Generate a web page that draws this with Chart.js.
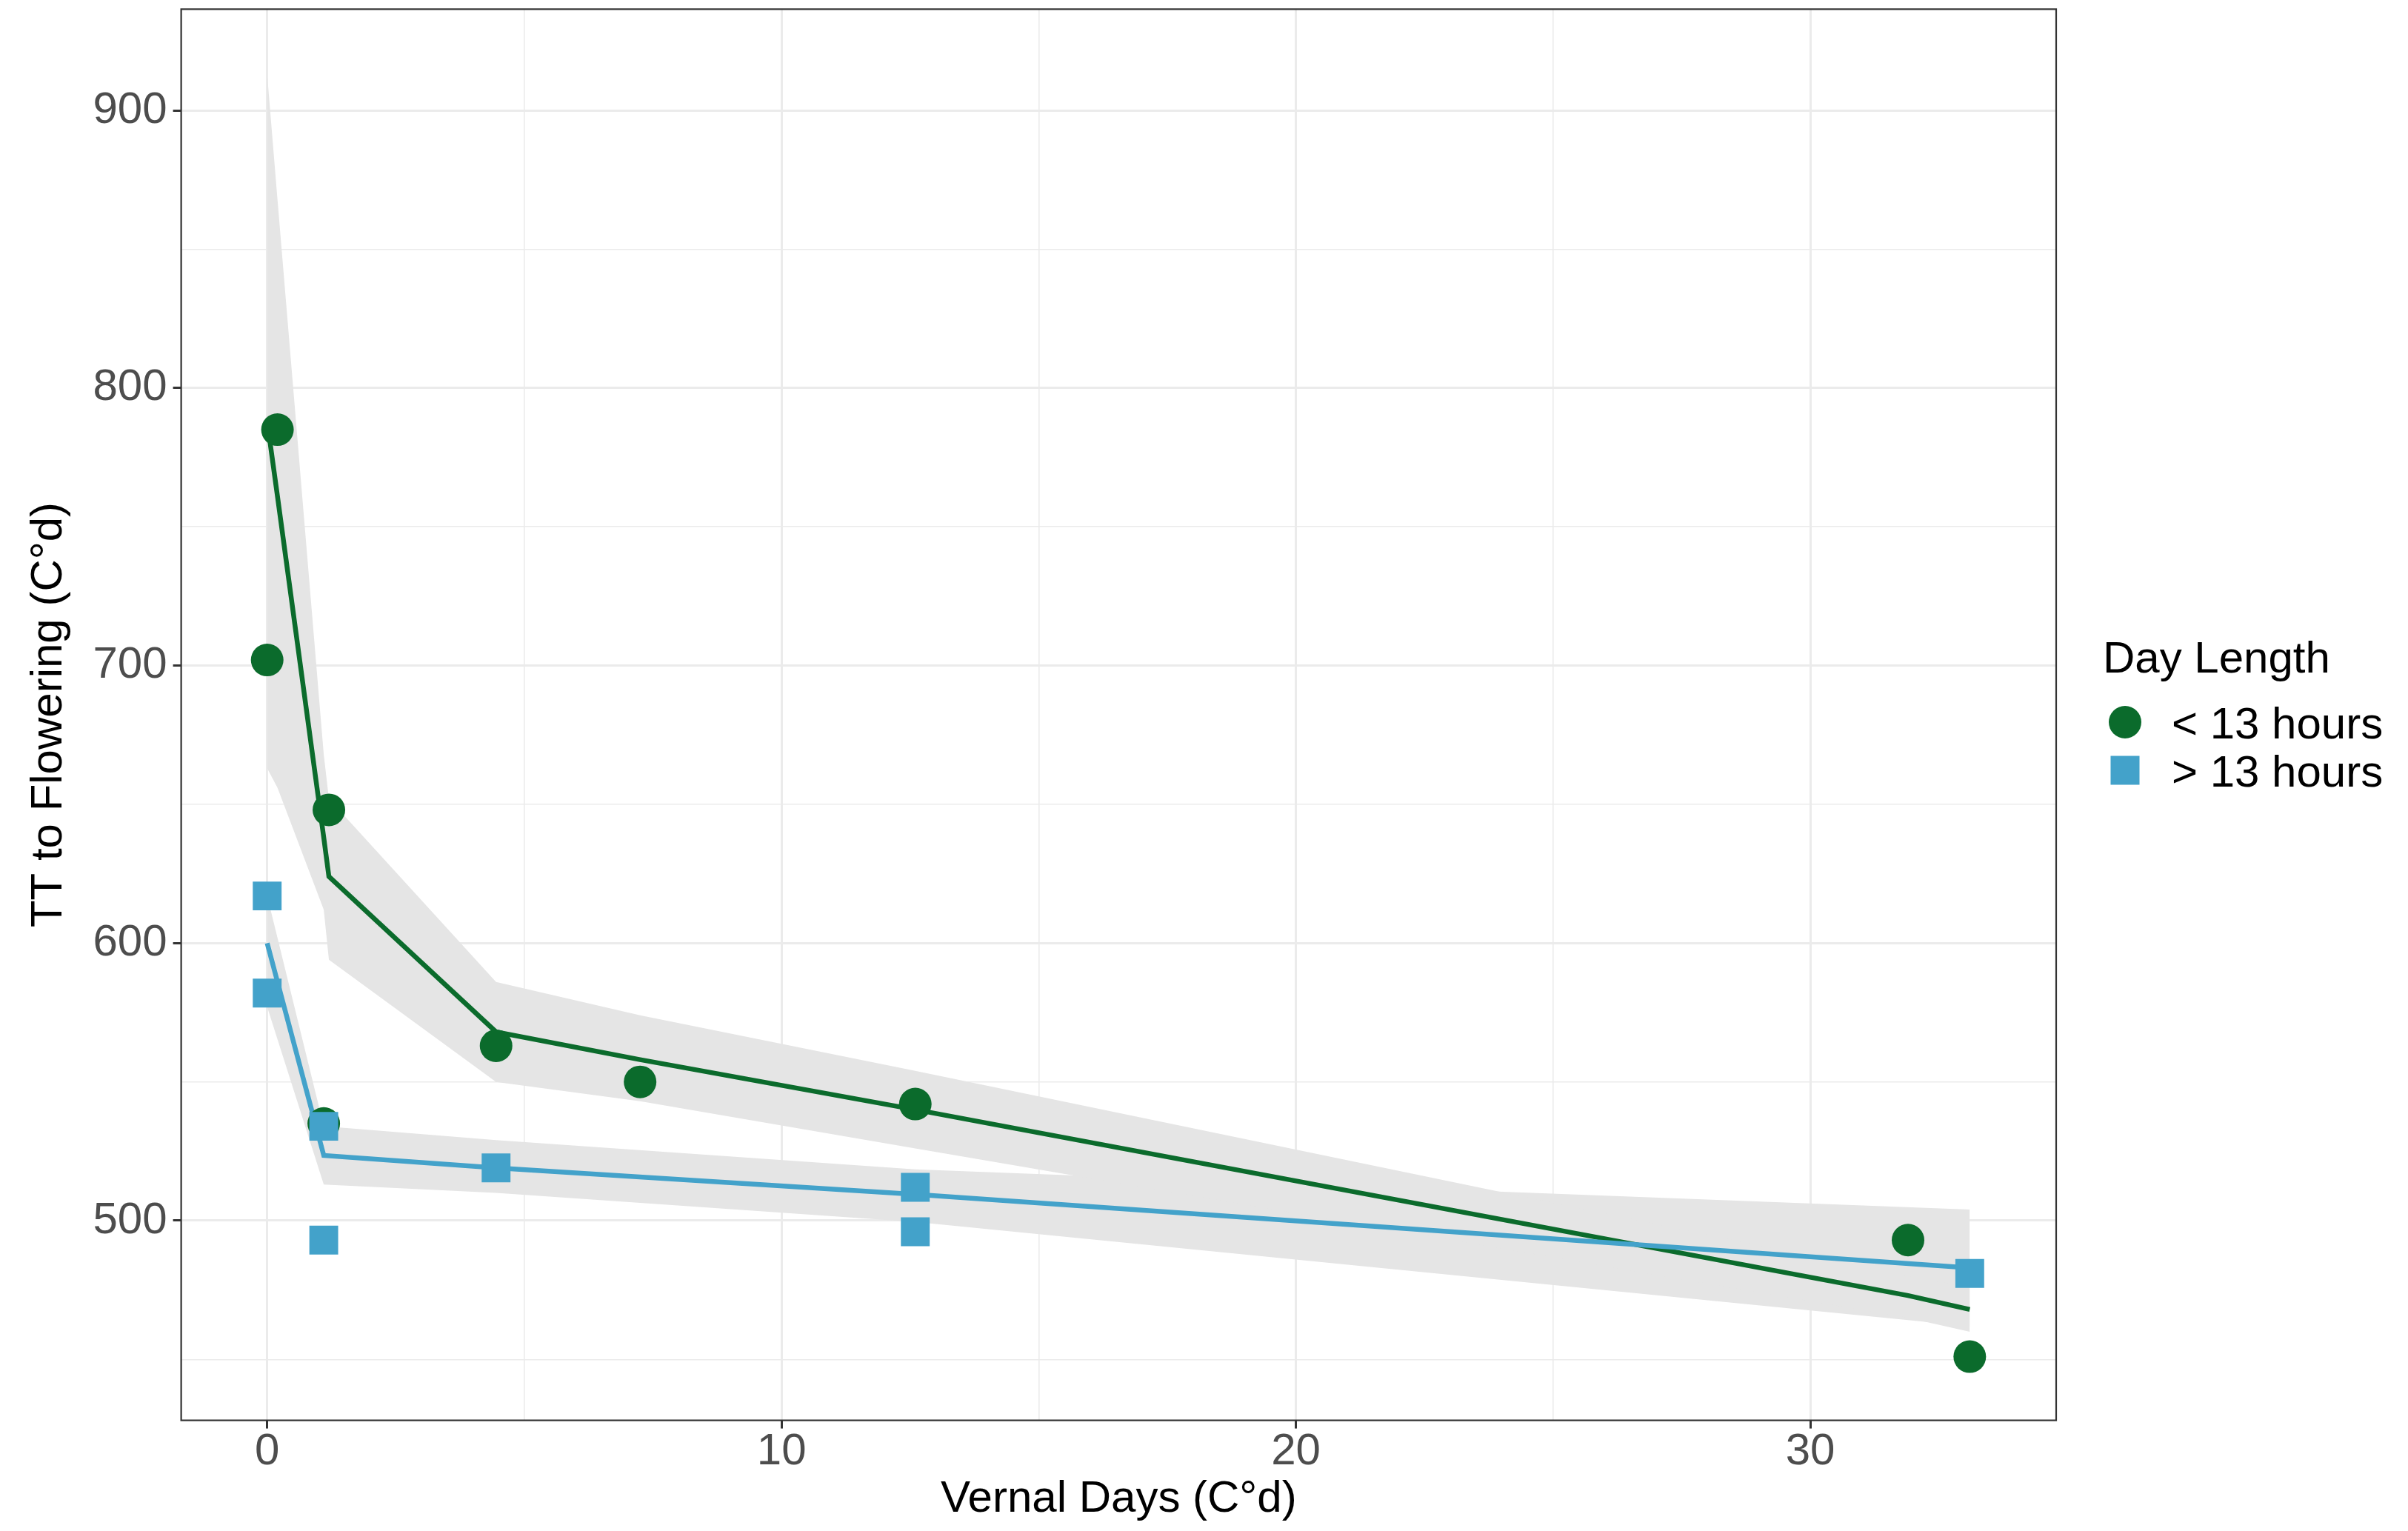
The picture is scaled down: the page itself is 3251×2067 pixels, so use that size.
<!DOCTYPE html>
<html>
<head>
<meta charset="utf-8">
<script src="https://cdn.jsdelivr.net/npm/chart.js@4.4.1/dist/chart.umd.min.js"></script>
<style>
html,body{margin:0;padding:0;background:#ffffff;}
#wrap{width:3251px;height:2067px;position:relative;}
</style>
</head>
<body>
<div id="wrap"><canvas id="c"></canvas></div>
<script>
// ---- text ----
const seriesNames = ['< 13 hours', '> 13 hours'];
const legendTitle = 'Day Length';
const xTitle = 'Vernal Days (C°d)';
const yTitle = 'TT to Flowering (C°d)';

// ---- observed points ----
const shortX = [0, 0.2, 1.1, 1.2, 4.45, 7.25, 12.6, 31.9, 33.1];
const shortY = [702, 785, 535, 648, 563, 550, 542, 493, 451];
const longX  = [0, 0, 1.1, 1.1, 4.45, 12.6, 12.6, 33.1];
const longY  = [617, 582, 534, 493, 519, 512, 496, 481];

// ---- fitted line and confidence band ----
const shortFitX  = [0, 0.2, 1.1, 1.2, 4.45, 7.25, 12.6, 31.9, 33.1];
const shortFit   = [788, 761, 638, 624, 568, 558, 540, 473, 468];
const shortUpper = [913, 868, 668, 652, 586, 574, 554, 480, 476];
const shortLower = [663, 656, 612, 594, 550, 543, 526, 465, 460];
const longFitX   = [0, 1.1, 4.45, 12.6, 33.1];
const longFit    = [600, 523.5, 519, 509.5, 483];
const longUpper  = [617, 534, 529, 518.5, 504];
const longLower  = [577, 513, 510, 499.5, 462];

// ---- ticks ----
const xMajor = [0, 10, 20, 30];
const xMinor = [5, 15, 25];
const yMajor = [500, 600, 700, 800, 900];
const yMinor = [450, 550, 650, 750, 850];

const FONT = 'Liberation Sans, Arial, Helvetica, sans-serif';
const GREEN = '#0B6B2C';
const BLUE = '#43A2CA';
const BAND = '#E5E5E5';

const pts = (xs, ys) => xs.map((x, i) => ({x: x, y: ys[i]}));

const CW = 3251, CH = 2067;
const AREA = {left: 244.6, right: 2776, top: 12.4, bottom: 1917.6};

const panelBorder = {
  id: 'panelBorder',
  afterDatasetsDraw(chart) {
    const a = chart.chartArea, ctx = chart.ctx;
    ctx.save();
    ctx.strokeStyle = '#333333';
    ctx.lineWidth = 2.2;
    ctx.strokeRect(a.left, a.top, a.right - a.left, a.bottom - a.top);
    ctx.restore();
  }
};

const customLegend = {
  id: 'customLegend',
  afterDraw(chart) {
    const ctx = chart.ctx;
    ctx.save();
    ctx.fillStyle = '#000000';
    ctx.font = '60px ' + FONT;
    ctx.textAlign = 'left';
    ctx.textBaseline = 'alphabetic';
    ctx.fillText(legendTitle, 2839, 908);
    const mx = 2869;
    const items = [
      {ds: chart.data.datasets[6], cy: 975, ty: 997},
      {ds: chart.data.datasets[7], cy: 1040, ty: 1062}
    ];
    items.forEach(it => {
      ctx.fillStyle = it.ds.backgroundColor;
      if (it.ds.pointStyle === 'circle') {
        ctx.beginPath();
        ctx.arc(mx, it.cy, 22, 0, Math.PI * 2);
        ctx.fill();
      } else {
        ctx.fillRect(mx - 19.5, it.cy - 19.5, 39, 39);
      }
      ctx.fillStyle = '#000000';
      ctx.fillText(it.ds.label, 2932, it.ty);
    });
    ctx.restore();
  }
};

const band = (label, xs, ys, fill) => ({
  label: label, data: pts(xs, ys), showLine: true, fill: fill,
  backgroundColor: BAND, borderColor: 'rgba(0,0,0,0)', borderWidth: 0,
  pointRadius: 0, tension: 0, order: 10
});

new Chart(document.getElementById('c'), {
  type: 'line',
  data: {
    datasets: [
      band('short upper', shortFitX, shortUpper, '+1'),
      band('short lower', shortFitX, shortLower, false),
      band('long upper', longFitX, longUpper, '+1'),
      band('long lower', longFitX, longLower, false),
      {label: 'short fit', data: pts(shortFitX, shortFit), borderColor: GREEN, borderWidth: 6.5,
       pointRadius: 0, fill: false, tension: 0, order: 4},
      {label: 'long fit', data: pts(longFitX, longFit), borderColor: BLUE, borderWidth: 6.5,
       pointRadius: 0, fill: false, tension: 0, order: 3},
      {label: seriesNames[0], data: pts(shortX, shortY), showLine: false, pointStyle: 'circle',
       pointRadius: 22, pointBorderWidth: 0, backgroundColor: GREEN, borderColor: GREEN, order: 2},
      {label: seriesNames[1], data: pts(longX, longY), showLine: false, pointStyle: 'rect',
       pointRadius: 27.5, pointBorderWidth: 0, backgroundColor: BLUE, borderColor: BLUE, order: 1}
    ]
  },
  options: {
    responsive: true,
    maintainAspectRatio: false,
    devicePixelRatio: 1,
    animation: false,
    layout: {autoPadding: false, padding: {left: 0, right: CW - AREA.right, top: AREA.top, bottom: 0}},
    plugins: {legend: {display: false}, tooltip: {enabled: false}},
    scales: {
      x: {
        type: 'linear', min: -1.672, max: 34.78,
        afterBuildTicks: s => { s.ticks = xMajor.concat(xMinor).sort((a, b) => a - b).map(v => ({value: v})); },
        afterFit: s => { s.height = CH - AREA.bottom; s.paddingLeft = 0; s.paddingRight = 0; s.paddingTop = 0; s.paddingBottom = 0; },
        ticks: {
          autoSkip: false, maxRotation: 0, minRotation: 0,
          callback: v => xMajor.includes(v) ? String(v) : '',
          font: {family: FONT, size: 60, lineHeight: 1}, color: '#4D4D4D', padding: 1.5
        },
        grid: {
          color: '#EBEBEB',
          lineWidth: c => xMajor.includes(c.tick.value) ? 3 : 1.6,
          drawTicks: true, tickLength: 11, tickWidth: 3,
          tickColor: c => xMajor.includes(c.tick.value) ? '#333333' : 'rgba(0,0,0,0)'
        },
        border: {display: false},
        title: {display: true, text: xTitle, color: '#000000',
          font: {family: FONT, size: 60}, padding: {top: 0, bottom: 7}}
      },
      y: {
        type: 'linear', min: 428.05, max: 936.5,
        afterBuildTicks: s => { s.ticks = yMajor.concat(yMinor).sort((a, b) => a - b).map(v => ({value: v})); },
        afterFit: s => { s.width = AREA.left; s.paddingLeft = 0; s.paddingRight = 0; s.paddingTop = 0; s.paddingBottom = 0; },
        ticks: {
          autoSkip: false,
          callback: v => yMajor.includes(v) ? String(v) : '',
          font: {family: FONT, size: 60, lineHeight: 1}, color: '#4D4D4D', padding: 8
        },
        grid: {
          color: '#EBEBEB',
          lineWidth: c => yMajor.includes(c.tick.value) ? 3 : 1.6,
          drawTicks: true, tickLength: 11, tickWidth: 3,
          tickColor: c => yMajor.includes(c.tick.value) ? '#333333' : 'rgba(0,0,0,0)'
        },
        border: {display: false},
        title: {display: true, text: yTitle, color: '#000000',
          font: {family: FONT, size: 60}, padding: {top: 30, bottom: 0}}
      }
    }
  },
  plugins: [panelBorder, customLegend]
});
</script>
</body>
</html>
